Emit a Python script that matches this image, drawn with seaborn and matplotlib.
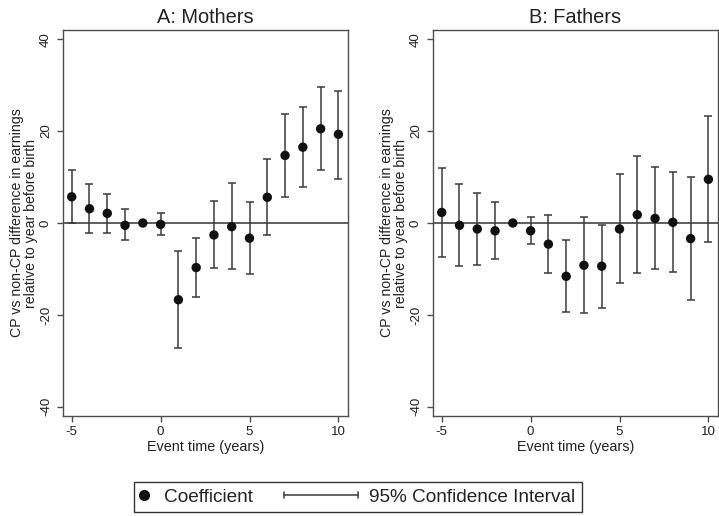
import numpy as np
import pandas as pd
import matplotlib
matplotlib.use("Agg")
import matplotlib.pyplot as plt
import seaborn as sns
from matplotlib.lines import Line2D
from matplotlib.legend_handler import HandlerBase

# ---------------- data ----------------
event_time = [-5, -4, -3, -2, -1, 0, 1, 2, 3, 4, 5, 6, 7, 8, 9, 10]

mothers_coef = [5.7, 3.1, 2.1, -0.5, 0.0, -0.3, -16.7, -9.7, -2.6, -0.8, -3.3, 5.6, 14.7, 16.5, 20.5, 19.3]
mothers_lo = [0.0, -2.1, -2.1, -3.8, np.nan, -2.6, -27.2, -16.1, -9.9, -10.1, -11.0, -2.7, 5.7, 7.9, 11.6, 9.6]
mothers_hi = [11.5, 8.4, 6.4, 3.0, np.nan, 2.2, -6.1, -3.2, 4.8, 8.7, 4.6, 14.0, 23.7, 25.2, 29.6, 28.8]

fathers_coef = [2.3, -0.5, -1.3, -1.7, 0.0, -1.7, -4.6, -11.6, -9.2, -9.4, -1.3, 1.8, 1.0, 0.15, -3.4, 9.5]
fathers_lo = [-7.3, -9.3, -9.2, -7.8, np.nan, -4.6, -10.9, -19.3, -19.6, -18.5, -13.0, -10.9, -10.1, -10.7, -16.7, -4.2]
fathers_hi = [12.0, 8.5, 6.6, 4.5, np.nan, 1.3, 1.7, -3.7, 1.2, -0.5, 10.6, 14.6, 12.2, 11.1, 10.1, 23.2]

panel_titles = ["A: Mothers", "B: Fathers"]
x_ticks = [-5, 0, 5, 10]
y_ticks = [-40, -20, 0, 20, 40]
x_label = "Event time (years)"
y_label = "CP vs non-CP difference in earnings\nrelative to year before birth"
legend_labels = ["Coefficient", "95% Confidence Interval"]

# ---------------- style ----------------
sns.set_theme(style="white")
plt.rcParams["font.family"] = ["Liberation Sans", "DejaVu Sans"]
TXT = "#222222"
DOT = "#111111"
BAR = "#3a3a3a"
SPINE = "#4d4d4d"

fig = plt.figure(figsize=(7.19, 5.16), dpi=100)
W, H = 719, 516
ax_bottom = 1 - 416 / H
ax_height = 386 / H
axA = fig.add_axes([63 / W, ax_bottom, 285 / W, ax_height])
axB = fig.add_axes([433 / W, ax_bottom, 285 / W, ax_height])

panels = [
    (axA, mothers_coef, mothers_lo, mothers_hi),
    (axB, fathers_coef, fathers_lo, fathers_hi),
]

for (ax, coef, lo, hi), title in zip(panels, panel_titles):
    df = pd.DataFrame({"t": event_time, "coef": coef, "lo": lo, "hi": hi})
    ax.axhline(0, color="#333333", lw=1.1, zorder=1)
    ci = df.dropna()
    ax.errorbar(ci["t"], ci["coef"],
                yerr=[ci["coef"] - ci["lo"], ci["hi"] - ci["coef"]],
                fmt="none", ecolor=BAR, elinewidth=1.1, capsize=3, capthick=1.1, zorder=2)
    sns.scatterplot(data=df, x="t", y="coef", ax=ax, color=DOT, s=46,
                    edgecolor="none", linewidth=0, zorder=3, legend=False)
    ax.set_xlim(-5.49, 10.54)
    ax.set_ylim(-42, 42)
    ax.set_xticks(x_ticks)
    ax.set_yticks(y_ticks)
    ax.set_xticklabels([str(v) for v in x_ticks])
    ax.set_yticklabels([str(v) for v in y_ticks], rotation=90, va="center")
    ax.tick_params(axis="both", direction="out", length=4, width=1, color=SPINE,
                   labelsize=9.6, labelcolor=TXT, left=True, bottom=True)
    ax.tick_params(axis="y", pad=4)
    ax.tick_params(axis="x", pad=3)
    for sp in ax.spines.values():
        sp.set_visible(True)
        sp.set_color(SPINE)
        sp.set_linewidth(1.0)
    ax.set_title(title, fontsize=14.4, color=TXT, pad=5)
    ax.set_xlabel(x_label, fontsize=10.4, color=TXT)
    ax.set_ylabel(y_label, fontsize=10.2, color=TXT, linespacing=1.0)
    ax.xaxis.set_label_coords(0.5, -0.063)
    ax.yaxis.set_label_coords(-0.088, 0.5)
    ax.grid(False)


# ---------------- legend ----------------
class CIHandler(HandlerBase):
    def __init__(self, extra, overhang, **kw):
        super().__init__(**kw)
        self.extra = extra
        self.overhang = overhang

    def create_artists(self, legend, orig_handle, xdescent, ydescent,
                       width, height, fontsize, trans):
        x1 = -xdescent + width + self.overhang * fontsize
        x0 = x1 - self.extra * fontsize
        y = (height - ydescent) / 2
        c = 0.17 * fontsize
        arts = [
            Line2D([x0, x1], [y, y], color=BAR, lw=1.1),
            Line2D([x0, x0], [y - c, y + c], color=BAR, lw=1.1),
            Line2D([x1, x1], [y - c, y + c], color=BAR, lw=1.1),
        ]
        for a in arts:
            a.set_transform(trans)
        return arts


dot_handle = Line2D([], [], marker="o", linestyle="none", color=DOT, markersize=7)
ci_handle = Line2D([], [], color=BAR)
leg = fig.legend([dot_handle, ci_handle], legend_labels,
                 handler_map={ci_handle: CIHandler(3.9, 0.3)},
                 loc="center", bbox_to_anchor=(358 / W, 1 - 497 / H),
                 ncol=2, fontsize=13.7, frameon=True, fancybox=False,
                 framealpha=1, edgecolor="#333333", borderpad=0.35,
                 handlelength=0.3, handletextpad=0.9, columnspacing=4.94)
leg.get_frame().set_linewidth(1.0)
for t in leg.get_texts():
    t.set_color(TXT)

fig.savefig("out.png", dpi=100)
